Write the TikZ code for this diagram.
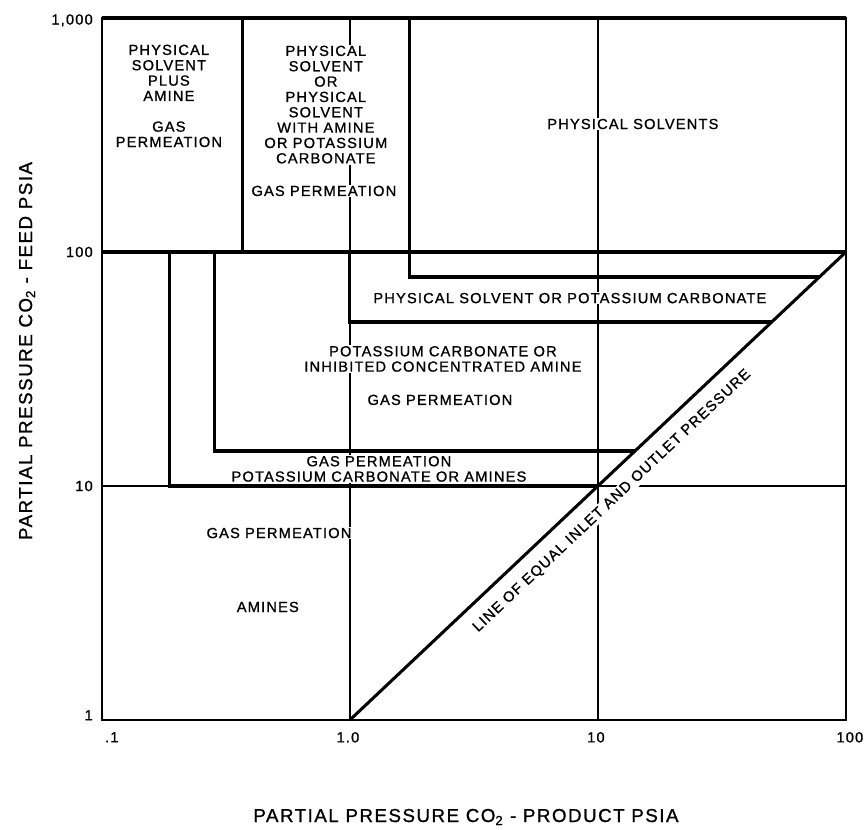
\documentclass[tikz,border=0pt]{standalone}
\usepackage{fontspec}
\setmainfont{Liberation Sans}[LetterSpace=8, FakeBold=1]
\usetikzlibrary{calc}

\tikzset{
	gridline/.style={line width=1.7pt},
	boundary/.style={line width=2.6pt},
	region/.style={fill=white, inner sep=1pt, align=center, font=\fontsize{12.5}{13.1}\selectfont},
	ticklabel/.style={inner sep=0pt, font=\fontsize{12.5}{15}\selectfont},
	axislabel/.style={font=\fontsize{16}{19}\selectfont}
}

\begin{document}
\begin{tikzpicture}[x=7.44cm, y=7.02cm]
			\useasboundingbox (-0.411,-0.466) rectangle (3.073,3.077);
			
			% Frame and decade grid (log scales, one unit per decade)
			\draw[gridline] (0,0) rectangle (3,3);
			\draw[gridline] (1,0) -- (1,3);
			\draw[gridline] (2,0) -- (2,3);
			\draw[gridline] (0,1) -- (3,1);
			
			% Ends of the line of equal inlet and outlet pressure
			\coordinate (lo) at (1,0);
			\coordinate (hi) at (3,2);
			
			% Tick labels
			\node[ticklabel, anchor=east] (y1) at (-0.036,0.02) {1};
			\node[ticklabel, anchor=east] (y10) at (-0.036,1) {10};
			\node[ticklabel, anchor=east] (y100) at (-0.036,2) {100};
			\node[ticklabel, anchor=east] (y1000) at (-0.036,2.99) {1,000};
			\node[ticklabel, anchor=north] (x01) at (0.04,-0.051) {.1};
			\node[ticklabel, anchor=north] (x1) at (0.992,-0.051) {1.0};
			\node[ticklabel, anchor=north] (x10) at (1.992,-0.051) {10};
			\node[ticklabel, anchor=north] (x100) at (3.016,-0.051) {100};
			
			% Axis titles
			\node[axislabel, rotate=90] (ytitle) at (-0.302,1.577) {PARTIAL PRESSURE CO\textsubscript{2} - FEED PSIA};
			\node[axislabel] (xtitle) at (1.468,-0.4145) {PARTIAL PRESSURE CO\textsubscript{2} - PRODUCT PSIA};
			
			% Region labels
			\node[region] (plusamine) at (0.270,2.667) {PHYSICAL\\SOLVENT\\PLUS\\AMINE\\[13.1pt]GAS\\PERMEATION};
			\node[region] (solventor) at (0.903,2.630) {PHYSICAL\\SOLVENT\\OR\\PHYSICAL\\SOLVENT\\WITH AMINE\\OR POTASSIUM\\CARBONATE};
			\node[region] (gasperm1) at (0.895,2.261) {GAS PERMEATION};
			\node[region] (physical) at (2.141,2.547) {PHYSICAL SOLVENTS};
			\node[region] (solventcarb) at (1.887,1.803) {PHYSICAL SOLVENT OR POTASSIUM CARBONATE};
			\node[region] (carbinhib) at (1.375,1.543) {POTASSIUM CARBONATE OR\\INHIBITED CONCENTRATED AMINE};
			\node[region] (gasperm2) at (1.363,1.368) {GAS PERMEATION};
			\node[region] (carbamines) at (1.117,1.073) {GAS PERMEATION\\POTASSIUM CARBONATE OR AMINES};
			\node[region] (gasperm3) at (0.714,0.799) {GAS PERMEATION};
			\node[region] (amines) at (0.669,0.483) {AMINES};
			\node[region, rotate=43.3] (equal) at ($(lo)!0.5!(hi)!0.62cm!-90:(hi)$) {LINE OF EQUAL INLET AND OUTLET PRESSURE};
			
			% Region boundaries with thick lines
			\draw[boundary] (0,3) -- (3,3);
			\draw[boundary] (0,2) -- (3,2);
			\draw[boundary] (0.5685,2) -- (0.5685,3);
			\draw[boundary] (1.2419,3) -- (1.2419,1.8932) -- (2.8932,1.8932);
			\draw[boundary] (1,2) -- (1,1.7009) -- (2.7009,1.7009);
			\draw[boundary] (0.4556,2) -- (0.4556,1.1496) -- (2.1496,1.1496);
			\draw[boundary] (0.2742,2) -- (0.2742,1) -- (2,1);
			\draw[boundary] (lo) -- (hi);
		\end{tikzpicture}
\end{document}
